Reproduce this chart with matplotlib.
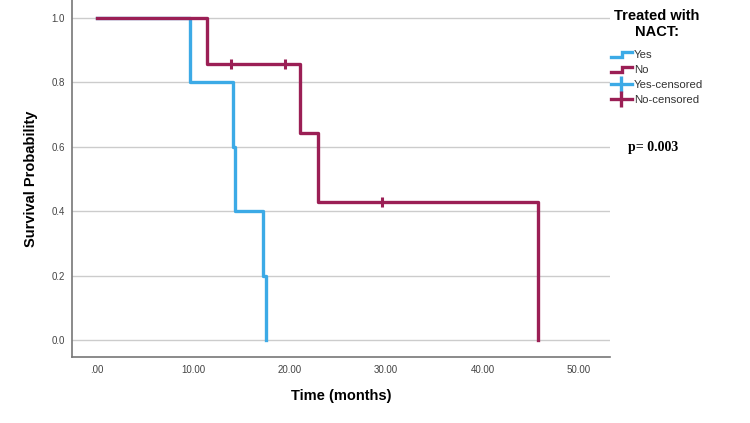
import matplotlib
matplotlib.use('Agg')
import matplotlib.pyplot as plt
from matplotlib.lines import Line2D
from matplotlib.legend_handler import HandlerBase

plt.rcParams['font.family'] = ['Liberation Sans', 'DejaVu Sans']

# Kaplan-Meier step data
yes_times = [0.0, 9.6, 14.1, 14.3, 17.2, 17.5]
yes_surv = [1.0, 0.8, 0.6, 0.4, 0.2, 0.0]
no_times = [0.0, 11.4, 21.1, 22.9, 45.8]
no_surv = [1.0, 0.857, 0.643, 0.429, 0.0]
no_cens_times = [13.9, 19.5, 29.6]
no_cens_surv = [0.857, 0.857, 0.429]

x_ticks = [0, 10, 20, 30, 40, 50]
x_labels = ['.00', '10.00', '20.00', '30.00', '40.00', '50.00']
y_ticks = [0.0, 0.2, 0.4, 0.6, 0.8, 1.0]
y_labels = ['0.0', '0.2', '0.4', '0.6', '0.8', '1.0']

blue = '#3caae6'
red = '#9b1f55'


class StepHandler(HandlerBase):
    def create_artists(self, legend, orig_handle, xdescent, ydescent,
                       width, height, fontsize, trans):
        x0, x1 = -xdescent, -xdescent + width
        xm = x0 + width * 0.55
        lo, hi = -ydescent + height * 0.15, -ydescent + height * 0.75
        line = Line2D([x0, xm, xm, x1], [lo, lo, hi, hi],
                      color=orig_handle.get_color(), lw=2.4,
                      solid_joinstyle='miter', transform=trans)
        return [line]


def main():
    fig = plt.figure(figsize=(7.5, 4.23), dpi=100)
    ax = fig.add_axes([0.096, 0.156, 0.717, 0.844])

    ax.step(yes_times, yes_surv, where='post', color=blue, lw=2.4, zorder=3)
    ax.step(no_times, no_surv, where='post', color=red, lw=2.4, zorder=4)
    ax.plot(no_cens_times, no_cens_surv, ls='none', marker='|', color=red,
            markersize=7, markeredgewidth=2.2, zorder=5)

    ax.set_xlim(-2.6, 53.2)
    ax.set_ylim(-0.053, 1.056)
    ax.set_xticks(x_ticks)
    ax.set_xticklabels(x_labels)
    ax.set_yticks(y_ticks)
    ax.set_yticklabels(y_labels)
    ax.tick_params(length=0, labelsize=7, labelcolor='#444444')
    ax.tick_params(axis='y', pad=5)
    ax.tick_params(axis='x', pad=6)
    ax.grid(axis='y', color='#cccccc', lw=1)
    ax.set_axisbelow(True)
    for side in ['top', 'right']:
        ax.spines[side].set_visible(False)
    for side in ['left', 'bottom']:
        ax.spines[side].set_color('#777777')
        ax.spines[side].set_linewidth(1.2)

    ax.set_xlabel('Time (months)', fontsize=10.5, fontweight='bold', labelpad=10)
    ax.set_ylabel('Survival Probability', fontsize=10.5, fontweight='bold', labelpad=10)

    h_yes = Line2D([], [], color=blue)
    h_no = Line2D([], [], color=red)
    h_yes_c = Line2D([], [], color=blue, lw=2.4, marker='|', markersize=11, markeredgewidth=2.4)
    h_no_c = Line2D([], [], color=red, lw=2.4, marker='|', markersize=11, markeredgewidth=2.4)
    leg = fig.legend([h_yes, h_no, h_yes_c, h_no_c],
                     ['Yes', 'No', 'Yes-censored', 'No-censored'],
                     handler_map={h_yes: StepHandler(), h_no: StepHandler()},
                     loc='upper left', bbox_to_anchor=(0.808, 0.99),
                     frameon=False, fontsize=8.2, handlelength=1.9,
                     handletextpad=0.15, labelspacing=0.45, borderaxespad=0,
                     title='Treated with\nNACT:', alignment='center',
                     title_fontproperties={'weight': 'bold', 'size': 10.5})
    for t in leg.get_texts():
        t.set_color('#333333')
    leg.get_title().set_multialignment('center')
    leg._legend_box.sep = 8

    fig.text(0.871, 0.652, 'p= 0.003', family=['Liberation Serif', 'DejaVu Serif'],
             fontweight='bold', fontsize=10, ha='center', va='center')

    fig.savefig('out.png', dpi=100)


if __name__ == "__main__":
    main()
